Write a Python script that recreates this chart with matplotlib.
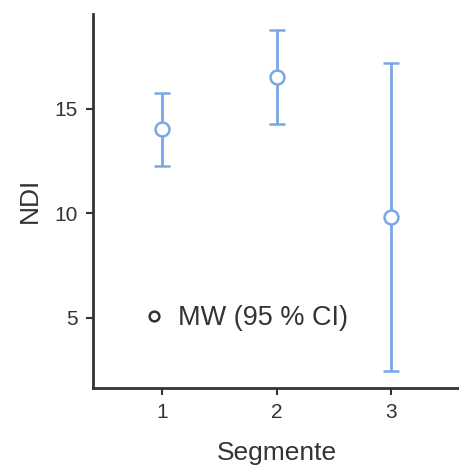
import matplotlib
matplotlib.use("Agg")
import matplotlib.pyplot as plt
from matplotlib.lines import Line2D

segments = [1, 2, 3]
means = [14.03, 16.52, 9.84]
ci_low = [12.27, 14.27, 2.46]
ci_high = [15.75, 18.77, 17.20]
tick_labels = ["1", "2", "3"]
y_ticks = [5, 10, 15]
legend_label = "MW (95 % CI)"

plt.rcParams['font.family'] = ['Liberation Sans', 'DejaVu Sans']

blue = "#7aa6e6"
dark = "#333333"

fig = plt.figure(figsize=(4.6, 4.66), dpi=100)
ax = fig.add_axes([0.203, 0.168, 0.797, 0.802])

yerr = [[m - l for m, l in zip(means, ci_low)], [h - m for m, h in zip(means, ci_high)]]
ax.errorbar(segments, means, yerr=yerr, fmt='o', color=blue, ecolor=blue,
            elinewidth=2, capsize=5.5, capthick=2, markersize=10,
            markerfacecolor='white', markeredgecolor=blue, markeredgewidth=1.8, zorder=3)

ax.set_xlim(0.4, 3.6)
ax.set_ylim(1.65, 19.55)
ax.set_xticks(segments)
ax.set_xticklabels(tick_labels)
ax.set_yticks(y_ticks)

for s in ['top', 'right']:
    ax.spines[s].set_visible(False)
for s in ['left', 'bottom']:
    ax.spines[s].set_color(dark)
    ax.spines[s].set_linewidth(2)
ax.tick_params(axis='both', colors=dark, labelcolor='#333333', labelsize=15,
               length=5, width=1.5, pad=6)

ax.set_xlabel("Segmente", fontsize=19, color='#333333', labelpad=14)
ax.set_ylabel("NDI", fontsize=19, color='#333333', labelpad=9.5)

handle = Line2D([], [], marker='o', linestyle='none', markersize=7,
                markerfacecolor='white', markeredgecolor=dark, markeredgewidth=1.8)
ax.legend([handle], [legend_label], loc='center left', bbox_to_anchor=(0.084, 0.1865),
          frameon=False, fontsize=19.5, handlelength=0.8, handletextpad=0.5,
          labelcolor='#333333', borderpad=0.2)

fig.savefig("out.png", dpi=100)
